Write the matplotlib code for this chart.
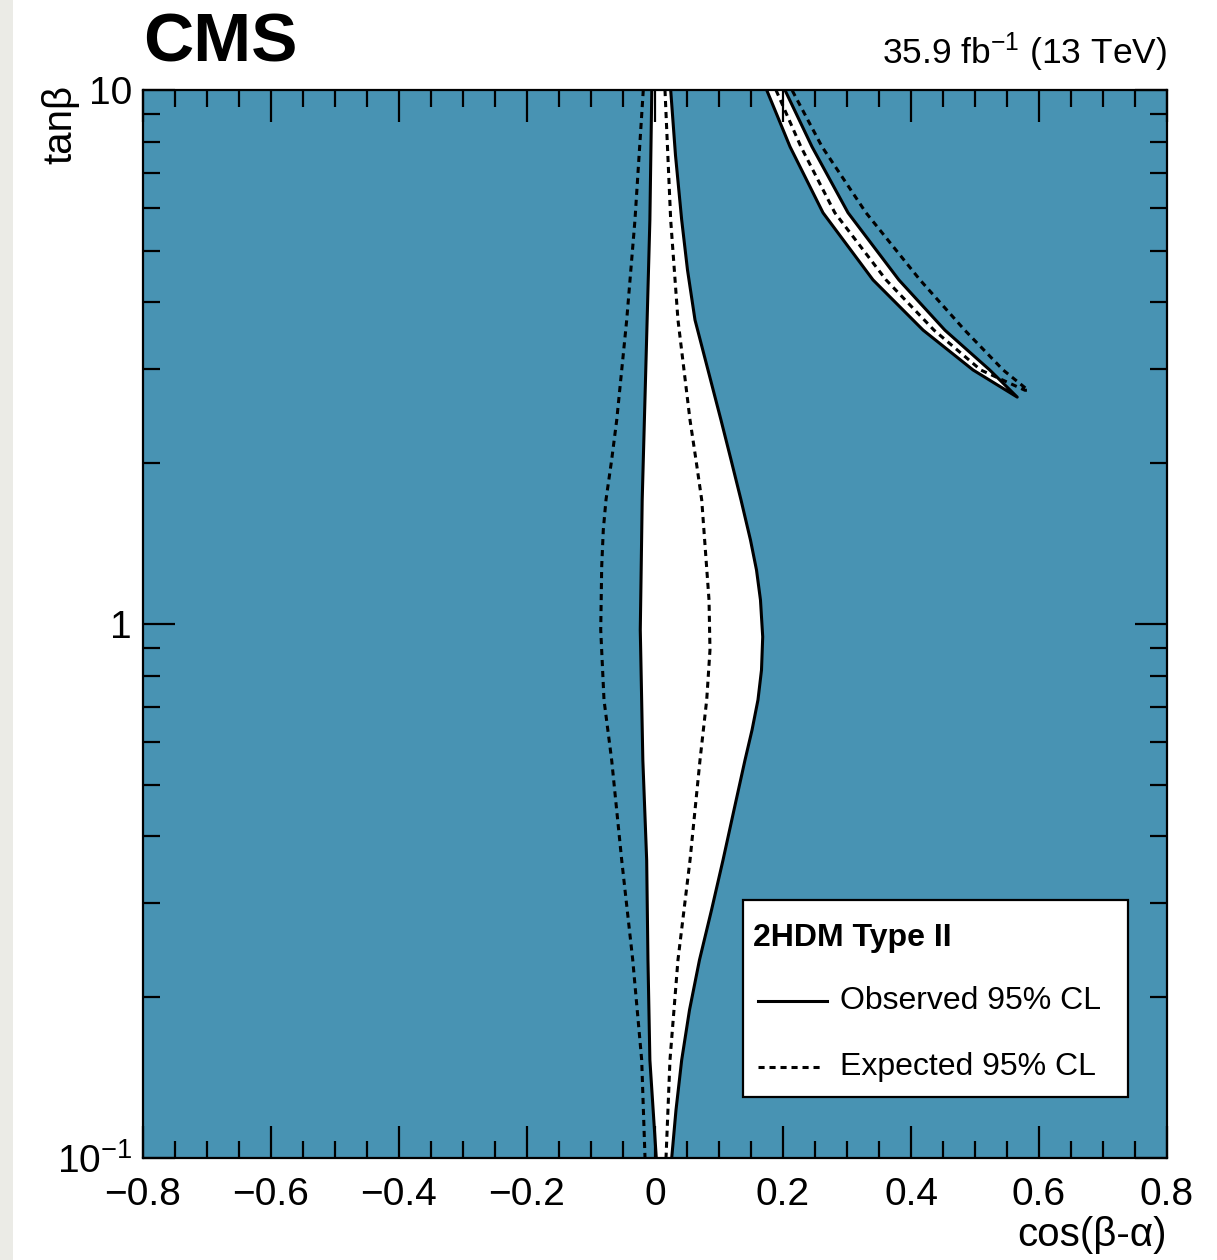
import matplotlib
matplotlib.use('Agg')
import matplotlib.pyplot as plt
from matplotlib.patches import Rectangle
from matplotlib.lines import Line2D
from matplotlib.ticker import MultipleLocator, LogLocator, NullFormatter

plt.rcParams['font.family'] = ['Liberation Sans', 'DejaVu Sans']
plt.rcParams['mathtext.fontset'] = 'custom'
plt.rcParams['mathtext.rm'] = 'Liberation Sans'
plt.rcParams['mathtext.it'] = 'Liberation Sans:italic'
plt.rcParams['mathtext.bf'] = 'Liberation Sans:bold'

# central band, observed edges (tanb, cos(b-a))
obs_left_tanb = [10, 5.71, 1.707, 0.975, 0.556, 0.361, 0.235, 0.1526, 0.1]
obs_left_cos = [-0.005, -0.008, -0.020, -0.023, -0.019, -0.013, -0.011, -0.008, 0.002]
obs_right_tanb = [10, 7.55, 5.71, 4.60, 3.71, 2.99, 2.41, 2.03, 1.707, 1.436, 1.262, 1.109,
                  0.946, 0.820, 0.721, 0.633, 0.556, 0.4484, 0.3615, 0.2913, 0.2349, 0.1893,
                  0.1526, 0.123, 0.1]
obs_right_cos = [0.0245, 0.0320, 0.0417, 0.0508, 0.0625, 0.0828, 0.1031, 0.1188, 0.1344,
                 0.1492, 0.1586, 0.1648, 0.1683, 0.1664, 0.1609, 0.1516, 0.1406, 0.1234,
                 0.1063, 0.0883, 0.0695, 0.0539, 0.0417, 0.0328, 0.0261]

# central band, expected edges
exp_left_tanb = [10, 5.71, 3.71, 2.41, 2.03, 1.707, 1.50, 1.279, 0.975, 0.721, 0.556, 0.361,
                 0.235, 0.1526, 0.1]
exp_left_cos = [-0.0183, -0.0313, -0.0442, -0.0598, -0.0677, -0.0766, -0.0808, -0.0833,
                -0.0848, -0.0797, -0.0677, -0.052, -0.0348, -0.0208, -0.0156]
exp_right_tanb = [10, 5.71, 3.71, 2.41, 2.03, 1.707, 1.109, 0.894, 0.721, 0.556, 0.361, 0.235,
                  0.1526, 0.1]
exp_right_cos = [0.0156, 0.0245, 0.0359, 0.0547, 0.064, 0.073, 0.0844, 0.0859, 0.0808, 0.0703,
                 0.0547, 0.0359, 0.0234, 0.0172]

# wrong-sign arc, observed
arc_obs_tanb = [10, 7.83, 5.89, 4.41, 3.55, 2.99, 2.66]
arc_obs_low_cos = [0.1745, 0.211, 0.2625, 0.3406, 0.419, 0.497, 0.566]
arc_obs_up_cos = [0.203, 0.2453, 0.3016, 0.381, 0.453, 0.523, 0.566]

# wrong-sign arc, expected
arc_exp_tanb = [10, 7.83, 5.89, 4.41, 3.55, 2.99, 2.74]
arc_exp_in_cos = [0.189, 0.228, 0.281, 0.361, 0.436, 0.509, 0.578]
arc_exp_out_cos = [0.214, 0.261, 0.3297, 0.414, 0.484, 0.544, 0.583]

x_ticks = [-0.8, -0.6, -0.4, -0.2, 0.0, 0.2, 0.4, 0.6, 0.8]
x_tick_labels = ['\u22120.8', '\u22120.6', '\u22120.4', '\u22120.2', '0', '0.2', '0.4', '0.6', '0.8']
y_ticks = [0.1, 1, 10]
y_tick_labels = [r'$10^{-1}$', '1', '10']

excl_color = '#4893b3'

fig = plt.figure(figsize=(12.17, 12.60), dpi=100)
fig.patches.append(Rectangle((0, 0), 13 / 1217, 1, transform=fig.transFigure,
                             facecolor='#ebebe6', edgecolor='none'))
ax = fig.add_axes([143 / 1217, 1 - 1158 / 1260, 1024 / 1217, 1068 / 1260])
ax.set_facecolor(excl_color)
ax.set_yscale('log')
ax.set_xlim(-0.8, 0.8)
ax.set_ylim(0.1, 10)

# allowed regions in white
ax.fill(obs_left_cos + obs_right_cos[::-1], obs_left_tanb + obs_right_tanb[::-1],
        color='white', lw=0, zorder=1)
ax.fill(arc_obs_low_cos + arc_obs_up_cos[::-1], arc_obs_tanb + arc_obs_tanb[::-1],
        color='white', lw=0, zorder=1)

lw = 2.2
dash = (0, (2.0, 1.6))
ax.plot(obs_left_cos, obs_left_tanb, color='black', lw=lw, zorder=3)
ax.plot(obs_right_cos, obs_right_tanb, color='black', lw=lw, zorder=3)
ax.plot(exp_left_cos, exp_left_tanb, color='black', lw=lw, ls=dash, zorder=3)
ax.plot(exp_right_cos, exp_right_tanb, color='black', lw=lw, ls=dash, zorder=3)
ax.plot(arc_obs_low_cos + arc_obs_up_cos[::-1], arc_obs_tanb + arc_obs_tanb[::-1],
        color='black', lw=lw, zorder=3)
ax.plot(arc_exp_in_cos + arc_exp_out_cos[::-1], arc_exp_tanb + arc_exp_tanb[::-1],
        color='black', lw=lw, ls=dash, zorder=3)

# ticks
ax.set_xticks(x_ticks, labels=x_tick_labels)
ax.xaxis.set_minor_locator(MultipleLocator(0.05))
ax.set_yticks(y_ticks, labels=y_tick_labels)
ax.yaxis.set_minor_locator(LogLocator(base=10, subs=range(2, 10)))
ax.yaxis.set_minor_formatter(NullFormatter())
ax.tick_params(which='both', direction='in', top=True, right=True, labelsize=28,
               width=1.6, color='black')
ax.tick_params(which='major', length=23)
ax.tick_params(which='minor', length=12)
ax.tick_params(axis='x', which='major', pad=14)
ax.tick_params(axis='y', which='major', pad=8)
for s in ax.spines.values():
    s.set_linewidth(1.6)

ax.set_xlabel('cos(\u03b2-\u03b1)', fontsize=29, loc='right', labelpad=2)
ax.set_ylabel('tan\u03b2', fontsize=29, loc='top')
ax.yaxis.set_label_coords(-0.062, 1.005)

fig.text(143 / 1217, 1 - 62 / 1260, 'CMS', fontsize=50, fontweight='bold', ha='left', va='baseline')
fig.text(1167 / 1217, 1 - 64 / 1260, r'35.9 fb$^{-1}$ (13 TeV)', fontsize=25.5, ha='right', va='baseline')

# legend box
ax.add_patch(Rectangle((0.586, 0.0571), 0.376, 0.1845, transform=ax.transAxes,
                       facecolor='white', edgecolor='black', lw=1.6, zorder=5))
ax.text(0.596, 0.206, '2HDM Type II', transform=ax.transAxes, fontsize=23,
        fontweight='bold', va='center', ha='left', zorder=6)
ax.add_line(Line2D([0.601, 0.668], [0.147, 0.147], transform=ax.transAxes,
                   color='black', lw=lw, zorder=6))
ax.text(0.681, 0.147, 'Observed 95% CL', transform=ax.transAxes, fontsize=23,
        va='center', ha='left', zorder=6)
ax.add_line(Line2D([0.601, 0.663], [0.0852, 0.0852], transform=ax.transAxes,
                   color='black', lw=lw, ls=dash, zorder=6))
ax.text(0.681, 0.0852, 'Expected 95% CL', transform=ax.transAxes, fontsize=23,
        va='center', ha='left', zorder=6)

fig.savefig('out.png', dpi=100)
